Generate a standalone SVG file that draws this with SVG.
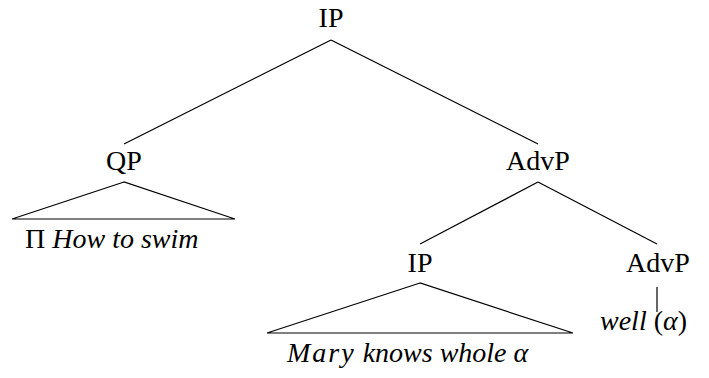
<svg xmlns="http://www.w3.org/2000/svg" width="709" height="378" viewBox="0 0 709 378" font-family="'Times New Roman', 'Liberation Serif', serif">
  <style>
    .edge { stroke: #000; stroke-width: 1.2; fill: none; }
  </style>
  <rect width="709" height="378" fill="#fff"/>

  <!-- tree branches -->
  <g id="connectors">
    <line class="edge" x1="331" y1="40" x2="124" y2="144"/>
    <line class="edge" x1="331" y1="40" x2="538" y2="144"/>
    <line class="edge" x1="538" y1="182" x2="420" y2="244"/>
    <line class="edge" x1="538" y1="182" x2="657" y2="244"/>
    <line class="edge" x1="657" y1="287" x2="657" y2="312"/>
    <!-- roof triangles -->
    <polygon class="edge" points="124,182 12,219 235,219"/>
    <polygon class="edge" points="420,283 267,333 573,333"/>
  </g>

  <!-- labels, left-aligned at precomputed x so each sits centred on its node -->
  <g id="ip-root"><text font-family="'Times New Roman', serif" font-size="28" x="318.6" y="27">IP</text></g>
  <g id="qp"><text font-family="'Times New Roman', serif" font-size="28" x="106" y="170">QP</text></g>
  <g id="qp-yield"><text font-family="'Times New Roman', serif" font-size="28" x="25" y="248">&#928; <tspan font-style="italic">How to swim</tspan></text></g>
  <g id="advp-top"><text font-family="'Times New Roman', serif" font-size="28" x="506" y="170">AdvP</text></g>
  <g id="ip-low"><text font-family="'Times New Roman', serif" font-size="28" x="407.6" y="272">IP</text></g>
  <g id="ip-yield"><text font-family="'Times New Roman', serif" font-size="28" font-style="italic" x="287" y="362"><tspan letter-spacing="2">Mary</tspan> knows whole &#945;</text></g>
  <g id="advp-low"><text font-family="'Times New Roman', serif" font-size="28" x="626" y="272">AdvP</text></g>
  <g id="advp-yield"><text font-family="'Times New Roman', serif" font-size="28" x="600" y="330"><tspan font-style="italic">well</tspan> (<tspan font-style="italic">&#945;</tspan>)</text></g>
</svg>
